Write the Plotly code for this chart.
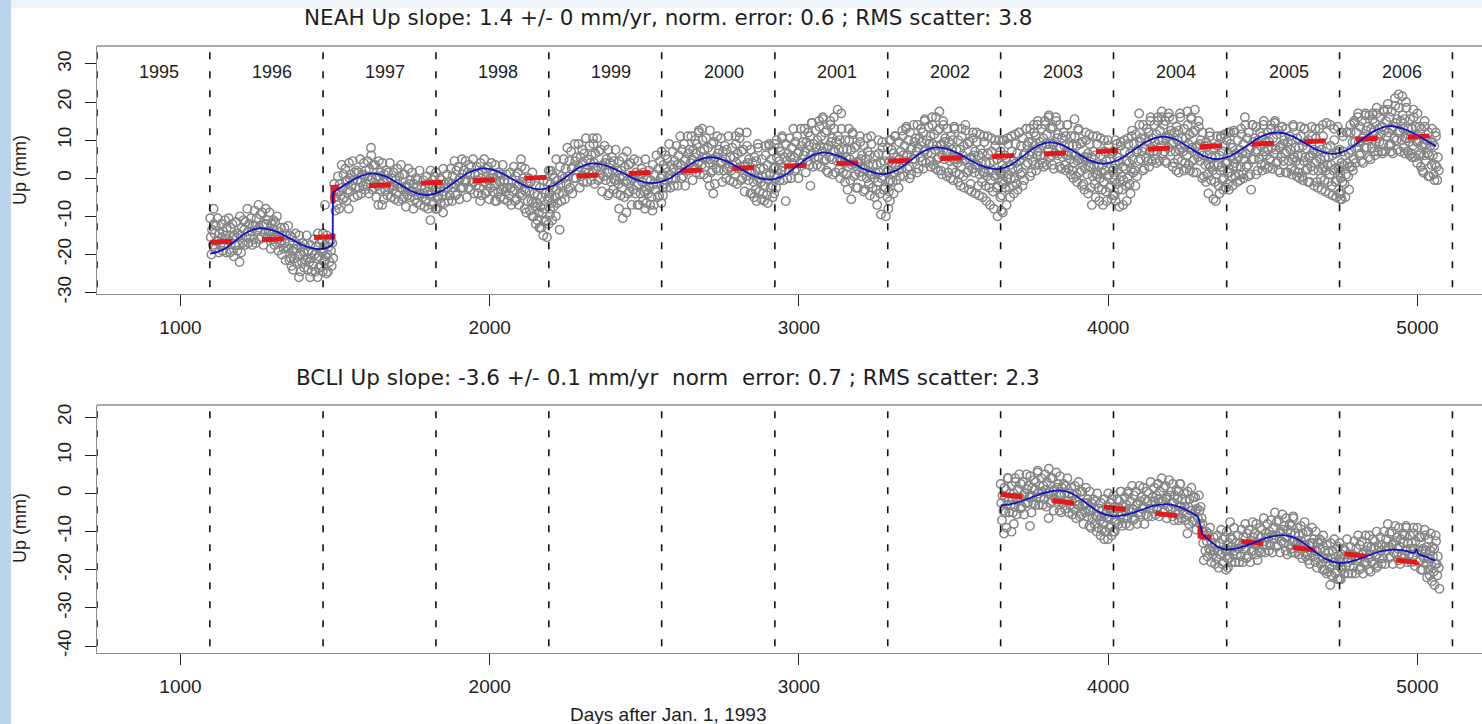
import plotly.graph_objects as go

FONT = "Liberation Sans, Arial, Helvetica, sans-serif"
TITLE_FONT = "DejaVu Sans, Verdana, sans-serif"
W, H = 1482, 724

# ---------------- data ----------------
year_starts = [730, 1095, 1461, 1826, 2191, 2556, 2922, 3287, 3652, 4017, 4383, 4748, 5113]
year_labels = ["1995", "1996", "1997", "1998", "1999", "2000", "2001", "2002", "2003", "2004", "2005", "2006"]
x_ticks = [1000, 2000, 3000, 4000, 5000]
neah_y_ticks = [-30, -20, -10, 0, 10, 20, 30]
bcli_y_ticks = [-40, -30, -20, -10, 0, 10, 20]

neah_title = "NEAH Up slope: 1.4 +/- 0 mm/yr, norm. error: 0.6 ; RMS scatter: 3.8"
bcli_title = "BCLI Up slope: -3.6 +/- 0.1 mm/yr  norm  error: 0.7 ; RMS scatter: 2.3"
x_title = "Days after Jan. 1, 1993"
y_title = "Up (mm)"

# each column = readings (mm) within one 12-day window
col_step = 12
day_offsets = [0, 6, 2, 9, 4, 11, 7]

neah_1996_start = 1096
neah_1996 = [
    [-10.5, -13.5, -15.5, -17.5, -20, -8], [-12, -12.5, -14.5, -16.5, -18.5], [-10.5, -14.5, -16.5, -17.5, -19.5],
    [-12, -14, -15.5, -17.5, -19], [-11, -13, -15, -16, -19.5], [-10.5, -13, -16.5, -19, -19.5],
    [-12, -15, -15.5, -17.5, -20.5], [-11.5, -14.5, -15.5, -17.5, -19, -22], [-10, -13, -15, -17, -19.5],
    [-11, -11.5, -13.5, -15.5, -17.5], [-8, -12, -14, -15, -17], [-10.5, -12.5, -14, -16, -17.5],
    [-8.5, -10.5, -12.5, -13.5, -17], [-7, -9.5, -13, -15.5, -16], [-9, -12, -12.5, -14.5, -17.5],
    [-8, -11, -12, -14, -15.5], [-9, -12, -14, -16, -18.5], [-11, -11.5, -13.5, -15.5, -17.5],
    [-10, -14, -16, -17, -19], [-13, -15, -16.5, -18.5, -20], [-13, -15, -17, -18, -21.5],
    [-12.5, -15, -18.5, -21, -21.5, -23], [-15.5, -18.5, -19, -21, -24], [-14.5, -17.5, -18.5, -20.5, -22, -26],
    [-15, -18, -20, -22, -24.5], [-17, -17.5, -19.5, -21.5, -23.5], [-15, -19, -21, -22, -24, -26],
    [-17.5, -19.5, -21, -23, -24.5], [-16, -18, -20, -21, -24.5, -26], [-14.5, -17, -20.5, -23, -23.5],
    [-16, -19, -19.5, -21.5, -24.5, -7],
]
neah_1997_start = 1461
neah_1997 = [
    [-14.5, -17.5, -18.5, -20.5, -22, -25], [-15, -18, -20, -22, -24.5], [-16.5, -17, -19, -21, -23],
    [-1.5, -3.5, -5, -7, -8.5], [0.5, -1.5, -3.5, -4.5, -8], [3.5, 1, -2.5, -5, -5.5],
    [2.5, -0.5, -1, -3, -6, -8], [4, 1, 0, -2, -3.5], [4.5, 1.5, -0.5, -2.5, -5],
    [2, 1.5, -0.5, -2.5, -4.5], [5, 1, -1, -2, -4], [4, 2, 0.5, -1.5, -3],
    [4.5, 2.5, 0.5, -0.5, -4, 8], [6, 3.5, 0, -2.5, -3], [3.5, 0.5, 0, -2, -5, -7],
    [4.5, 1.5, 0.5, -1.5, -3, -7], [4, 1, -1, -3, -5.5], [2, 1.5, -0.5, -2.5, -4.5],
    [4, 0, -2, -3, -5], [1.5, -0.5, -2, -4, -5.5], [2.5, 0.5, -1.5, -2.5, -6],
    [3.5, 1, -2.5, -5, -5.5], [1, -2, -2.5, -4.5, -7.5], [2.5, -0.5, -1.5, -3.5, -5],
    [1.5, -1.5, -3.5, -5.5, -8], [0, -0.5, -2.5, -4.5, -6.5], [2, -2, -4, -5, -7],
    [-0.5, -2.5, -4, -6, -7.5], [0.5, -1.5, -3.5, -4.5, -8, -11], [2, -0.5, -4, -6.5, -7],
    [0.5, -2.5, -3, -5, -8],
]
neah_1998_start = 1826
neah_1998 = [
    [1.5, -1.5, -3.5, -5.5, -8], [0, -0.5, -2.5, -4.5, -6.5, -9], [2.5, -1.5, -3.5, -4.5, -6.5],
    [1, -1, -2.5, -4.5, -6], [2.5, 0.5, -1.5, -2.5, -6], [4.5, 2, -1.5, -4, -4.5],
    [3, 0, -0.5, -2.5, -5.5], [5, 2, 1, -1, -2.5], [4.5, 1.5, -0.5, -2.5, -5],
    [3.5, 3, 1, -1, -3], [5, 1, -1, -2, -4], [3, 1, -0.5, -2.5, -4, -6],
    [4, 2, 0, -1, -4.5], [5, 2.5, -1, -3.5, -4], [3, 0, -0.5, -2.5, -5.5],
    [4, 1, 0, -2, -3.5, -6], [3.5, 0.5, -1.5, -3.5, -6], [1.5, 1, -1, -3, -5],
    [3.5, -0.5, -2.5, -3.5, -5.5], [1, -1, -2.5, -4.5, -6], [1.5, -0.5, -2.5, -3.5, -7],
    [3, 0.5, -3, -5.5, -6], [1.5, -1.5, -2, -4, -7, 5], [3, 0, -1, -3, -4.5, -8],
    [2.5, -1, -3.5, -6, -9], [0, -1, -3.5, -6, -8.5, -10], [1.5, -4, -6.5, -7.5, -10, -12],
    [-2, -4.5, -6.5, -9, -11, -13], [-2.5, -5, -7.5, -9, -13, -15], [-0.5, -4, -8, -11, -11.5, -15.5],
    [-1, -5, -5.5, -8, -12, 2],
]
neah_1999_start = 2191
neah_1999 = [
    [2, -1.5, -4, -6.5, -9.5, -11], [1, 0, -2.5, -5, -7.5, -10], [5, -0.5, -3, -4, -6.5, -13.5],
    [3, 0.5, -1.5, -4, -6], [5, 2.5, 0, -1.5, -5.5], [8, 4.5, 0.5, -2.5, -3],
    [7, 3, 2.5, 0, -4], [9, 5.5, 4.5, 2, 0], [9, 5.5, 3, 0.5, -2.5],
    [7.5, 6.5, 4, 1.5, -1], [10.5, 5, 2.5, 1.5, -1], [8.5, 6, 4, 1.5, -0.5, 10.5],
    [9, 6.5, 4, 2.5, -1.5], [10.5, 7, 3, 0, -0.5], [7.5, 3.5, 3, 0.5, -3.5],
    [8.5, 5, 4, 1.5, -0.5, -4.5], [7.5, 4, 1.5, -1, -4], [5.5, 4.5, 2, -0.5, -3],
    [7.5, 2, -0.5, -1.5, -4, -8], [4.5, 2, 0, -2.5, -4.5, -10.5], [5.5, 3, 0.5, -1, -5, -9],
    [7, 3.5, -0.5, -3.5, -4], [4, 0, -0.5, -3, -7], [5, 1.5, 0.5, -2, -4, -7],
    [4.5, 1, -1.5, -4, -7], [2.5, 1.5, -1, -3.5, -6, -8], [5, -0.5, -3, -4, -6.5],
    [2, -0.5, -2.5, -5, -7, -8.5], [3.5, 1, -1.5, -3, -7], [6, 2.5, -1.5, -4.5, -5],
    [4.5, 0.5, 0, -2.5, -6.5],
]
neah_2000_start = 2556
neah_2000 = [
    [7, 3.5, 1, -1.5, -4.5], [6, 5, 2.5, 0, -2.5], [9, 3.5, 1, 0, -2.5],
    [7, 4.5, 2.5, 0, -2], [8.5, 6, 3.5, 2, -2], [11, 7.5, 3.5, 0.5, 0],
    [9, 5, 4.5, 2, -2], [11, 7.5, 6.5, 4, 2], [11, 7.5, 5, 2.5, -0.5],
    [10, 9, 6.5, 4, 1.5, 12], [12.5, 7, 4.5, 3.5, 1, 13], [10, 7.5, 5.5, 3, 1],
    [10.5, 8, 5.5, 4, 0, -2], [12.5, 9, 5, 2, 1.5, -4], [9.5, 5.5, 5, 2.5, -1.5],
    [11, 7.5, 6.5, 4, 2], [10.5, 7, 4.5, 2, -1], [8.5, 7.5, 5, 2.5, 0],
    [11, 5.5, 3, 2, -0.5], [8, 5.5, 3.5, 1, -1, 11], [9, 6.5, 4, 2.5, -1.5, 12],
    [10.5, 7, 3, 0, -0.5], [7.5, 3.5, 3, 0.5, -3.5, 12], [8.5, 5, 4, 1.5, -0.5, -4],
    [7.5, 4, 1.5, -1, -4, -5], [5.5, 4.5, 2, -0.5, -3, 9, -6], [8, 2.5, 0, -1, -3.5, -5.5],
    [5, 2.5, 0.5, -2, -4, 8.5, -6], [6, 3.5, 1, -0.5, -4.5, 9, -6.5], [8.5, 5, 1, -2, -2.5, -5],
    [7, 3, 2.5, 0, -4, 10],
]
neah_2001_start = 2922
neah_2001 = [
    [9, 5.5, 3, 0.5, -2.5], [8, 7, 4.5, 2, -0.5, 10.5], [11, 5.5, 3, 2, -0.5, -6],
    [9, 6.5, 4.5, 2, 0], [10.5, 8, 5.5, 4, 0], [13, 9.5, 5.5, 2.5, 2],
    [11, 7, 6.5, 4, 0], [13, 9.5, 8.5, 6, 4], [13, 9.5, 7, 4.5, 1.5],
    [12, 11, 8.5, 6, 3.5, 14.5, -2], [14.5, 9, 6.5, 5.5, 3], [12.5, 10, 8, 5.5, 3.5, 15],
    [13.5, 11, 8.5, 7, 3, 16], [15.5, 12, 8, 5, 4.5, 2], [12.5, 8.5, 8, 5.5, 1.5, 15],
    [14, 10.5, 9.5, 7, 5, 16, 1], [13, 9.5, 7, 4.5, 1.5, 18], [11, 10, 7.5, 5, 2.5, 17, 0],
    [13, 7.5, 5, 4, 1.5, -1], [10, 7.5, 5.5, 3, 1, 13, -3], [10, 7.5, 5, 3.5, -0.5, 12, -5.5],
    [11.5, 8, 4, 1, 0.5, -2.5], [8.5, 4.5, 4, 1.5, -2.5, 11], [9.5, 6, 5, 2.5, 0.5, -3.5],
    [8.5, 5, 2.5, 0, -3, 10.5], [7, 6, 3.5, 1, -1.5, 11, -4.5], [9, 3.5, 1, 0, -2.5, -5],
    [6, 3.5, 1.5, -1, -3, 10, -7], [6.5, 4, 1.5, 0, -4, 9.5, -9.5], [8, 4.5, 0.5, -2.5, -3, -10],
    [6, 2, 1.5, -1, -5, 10, -8],
]
neah_2002_start = 3287
neah_2002 = [
    [8, 4.5, 2, -0.5, -3.5, 10, -6], [7.5, 6.5, 4, 1.5, -1, 11, -4], [11, 5.5, 3, 2, -0.5, -2.5],
    [9.5, 7, 5, 2.5, 0.5, 12.5], [11, 8.5, 6, 4.5, 0.5, 13], [13.5, 10, 6, 3, 2.5, 0],
    [12, 8, 7.5, 5, 1], [14, 10.5, 9.5, 7, 5, 1.5], [14, 10.5, 8, 5.5, 2.5],
    [13, 12, 9.5, 7, 4.5, 15, 2.5], [15.5, 10, 7.5, 6.5, 4], [13.5, 11, 9, 6.5, 4.5, 16, 3],
    [14, 11.5, 9, 7.5, 3.5, 2.5], [16, 12.5, 8.5, 5.5, 5, 17.5, 2], [13, 9, 8.5, 6, 2, 15, 1],
    [14, 10.5, 9.5, 7, 5, 0.5], [13, 9.5, 7, 4.5, 1.5, 0], [11, 10, 7.5, 5, 2.5, 13.5, -0.5],
    [13, 7.5, 5, 4, 1.5, -1], [10, 7.5, 5.5, 3, 1, 13, -2], [11, 8.5, 6, 4.5, 0.5, 14, -2.5],
    [12.5, 9, 5, 2, 1.5, -3], [9.5, 5.5, 5, 2.5, -1.5, 12, -3.5], [10.5, 7, 6, 3.5, 1.5, 12, -4],
    [9.5, 6, 3.5, 1, -2, 11.5, -4.5], [7.5, 6.5, 4, 1.5, -1, 11, -5], [9.5, 4, 1.5, 0.5, -2, 11, -6],
    [6.5, 4, 2, -0.5, -2.5, 10.5, -7], [7, 4.5, 2, 0.5, -3.5, 10, -8], [8.5, 5, 1, -2, -2.5, 10, -10],
    [6, 2, 1.5, -1, -5, 10, -8.5],
]
neah_2003_start = 3652
neah_2003 = [
    [7, 3.5, 1, -1.5, -4.5, 10, -9], [6, 5, 2.5, 0, -2.5, 10.5, -7], [9, 3.5, 1, 0, -2.5, 11, -5],
    [7, 4.5, 2.5, 0, -2, 11.5, -4], [9, 6.5, 4, 2.5, -1.5, 12, -3], [12, 8.5, 4.5, 1.5, 1, -2],
    [10.5, 6.5, 6, 3.5, -0.5, 13], [13, 9.5, 8.5, 6, 4, 0.5], [13, 9.5, 7, 4.5, 1.5, 14],
    [12, 11, 8.5, 6, 3.5, 14, 2], [15, 9.5, 7, 6, 3.5], [13, 10.5, 8.5, 6, 4, 15, 3],
    [14, 11.5, 9, 7.5, 3.5, 16], [16.5, 13, 9, 6, 5.5, 3.5], [13.5, 9.5, 9, 6.5, 2.5, 16],
    [15, 11.5, 10.5, 8, 6, 3], [14, 10.5, 8, 5.5, 2.5], [12, 11, 8.5, 6, 3.5, 14, 2],
    [14, 8.5, 6, 5, 2.5, 1], [11, 8.5, 6.5, 4, 2, 15.5, 0], [11, 8.5, 6, 4.5, 0.5, 13, -1],
    [12.5, 9, 5, 2, 1.5, -2], [9.5, 5.5, 5, 2.5, -1.5, 12, -3], [10, 6.5, 5.5, 3, 1, 11.5, -4],
    [9, 5.5, 3, 0.5, -2.5, 11, -7], [7, 6, 3.5, 1, -1.5, 11, -5], [9, 3.5, 1, 0, -2.5, 10.5, -6],
    [6, 3.5, 1.5, -1, -3, 10, -7], [7, 4.5, 2, 0.5, -3.5, 10, -6], [8.5, 5, 1, -2, -2.5, -5.5],
    [6.5, 2.5, 2, -0.5, -4.5, 10],
]
neah_2004_start = 4017
neah_2004 = [
    [7, 3.5, 1, -1.5, -4.5, 9, -6], [5.5, 4.5, 2, -0.5, -3, 9.5, -7.5], [8.5, 3, 0.5, -0.5, -3, 10, -7],
    [7, 4.5, 2.5, 0, -2, 10.5, -6], [9, 6.5, 4, 2.5, -1.5, 11, -4], [12.5, 9, 5, 2, 1.5, -2],
    [11.5, 7.5, 7, 4.5, 0.5, 17], [14, 10.5, 9.5, 7, 5, 2], [14, 10.5, 8, 5.5, 2.5],
    [13, 12, 9.5, 7, 4.5, 15, 3], [16, 10.5, 8, 7, 4.5], [14, 11.5, 9.5, 7, 5, 16, 4],
    [15, 12.5, 10, 8.5, 4.5, 16], [17.5, 14, 10, 7, 6.5, 4.5], [15, 11, 10.5, 8, 4, 17],
    [16, 12.5, 11.5, 9, 7, 3], [15.5, 12, 9.5, 7, 4, 2], [13.5, 12.5, 10, 7.5, 5, 17, 1.5],
    [16, 10.5, 8, 7, 4.5, 2], [13, 10.5, 8.5, 6, 4, 17.5, 2.5], [14, 11.5, 9, 7.5, 3.5, 16, 2],
    [15.5, 12, 8, 5, 4.5, 18, 1.5], [12.5, 8.5, 8, 5.5, 1.5, 15], [13.5, 10, 9, 6.5, 4.5, 0],
    [12, 8.5, 6, 3.5, 0.5, -1], [9.5, 8.5, 6, 3.5, 1, 12, -4], [11, 5.5, 3, 2, -0.5, -5.5],
    [8, 5.5, 3.5, 1, -1, 11, -6], [8.5, 6, 3.5, 2, -2, 11, -4], [10.5, 7, 3, 0, -0.5, 11.5, -3],
    [8.5, 4.5, 4, 1.5, -2.5, 12],
]
neah_2005_start = 4383
neah_2005 = [
    [10, 6.5, 4, 1.5, -1.5, 12, -3], [9, 8, 5.5, 3, 0.5, 12.5, -2], [12, 6.5, 4, 3, 0.5, -1],
    [10, 7.5, 5.5, 3, 1, 13, -0.5], [11.5, 9, 6.5, 5, 1, 16, 0], [14, 10.5, 6.5, 3.5, 3, 0.5],
    [12, 8, 7.5, 5, 1, 14, -3], [14, 10.5, 9.5, 7, 5, 1], [13.5, 10, 7.5, 5, 2],
    [12, 11, 8.5, 6, 3.5, 14, 2], [15, 9.5, 7, 6, 3.5, 2.5], [12, 9.5, 7.5, 5, 3, 14],
    [13, 10.5, 8, 6.5, 2.5, 14.5], [15, 11.5, 7.5, 4.5, 4, 2], [12.5, 8.5, 8, 5.5, 1.5, 13.5],
    [13.5, 10, 9, 6.5, 4.5, 1.5], [13, 9.5, 7, 4.5, 1.5], [11, 10, 7.5, 5, 2.5, 14, 1],
    [13.5, 8, 5.5, 4.5, 2, 0.5], [10.5, 8, 6, 3.5, 1.5, 13.5, 0], [11, 8.5, 6, 4.5, 0.5, 13, -0.5],
    [13, 9.5, 5.5, 2.5, 2, -1], [10, 6, 5.5, 3, -1, 13.5], [11, 7.5, 6.5, 4, 2, 13, -2],
    [10.5, 7, 4.5, 2, -1, 13, -2.5], [8.5, 7.5, 5, 2.5, 0, 14, -3], [11, 5.5, 3, 2, -0.5, 14.5, -3.5],
    [8, 5.5, 3.5, 1, -1, 14, -4], [8.5, 6, 3.5, 2, -2, 13, -4.5], [10, 6.5, 2.5, -0.5, -1, 13.5, -5],
    [7, 3, 2.5, 0, -4, 12, -5.5],
]
neah_2006_start = 4748
neah_2006 = [
    [7.5, 4, 1.5, -1, -4, 11, -5.5], [7, 6, 3.5, 1, -1.5, 12, -5], [12, 6.5, 4, 3, 0.5, 14, -3],
    [12, 9.5, 7.5, 5, 3, 15, 2], [14.5, 12, 9.5, 8, 4, 16], [17, 13.5, 9.5, 6.5, 6, 4.5],
    [15, 11, 10.5, 8, 4, 16.5], [17, 13.5, 12.5, 10, 8, 5.5], [16.5, 13, 10.5, 8, 5, 17],
    [15.5, 14.5, 12, 9.5, 7, 17, 6], [18.5, 13, 10.5, 9.5, 7], [16, 13.5, 11.5, 9, 7, 18, 6.5],
    [17.5, 15, 12.5, 11, 7, 18], [19.5, 16, 12, 9, 8.5, 7], [17.5, 13.5, 13, 10.5, 6.5, 21],
    [19, 15.5, 14.5, 12, 10, 22, 7.5], [18.5, 15, 12.5, 10, 7, 21.5], [16.5, 15.5, 13, 10.5, 8, 20, 6.5],
    [18.5, 13, 10.5, 9.5, 7, 6], [15.5, 13, 11, 8.5, 6.5, 18, 5.5], [16, 13.5, 11, 9.5, 5.5, 4],
    [17, 13.5, 9.5, 6.5, 6, 3], [13, 9, 8.5, 6, 2, 15, 1.5], [13.5, 10, 9, 6.5, 4.5, 0.5],
    [12, 8.5, 6, 3.5, 0.5, 13], [9.5, 8.5, 6, 3.5, 1, 12, -0.5], [11, 5.5, 3, 2, -0.5],
]

bcli_2003_start = 3652
bcli_2003 = [
    [2.5, -0.5, -2.5, -4.5, -7, -10.5], [1.5, 1, -1, -3, -5, 4, -9], [4, 0, -2, -3, -5, -10],
    [2, 0, -1.5, -3.5, -5, 4, -8], [3, 1, -1, -2, -5.5], [5, 2.5, -1, -3.5, -4],
    [3, 0, -0.5, -2.5, -5.5], [5, 2, 1, -1, -2.5, -8.5], [4.5, 1.5, -0.5, -2.5, -5],
    [3.5, 3, 1, -1, -3, 5.5], [6, 2, 0, -1, -3], [4, 2, 0.5, -1.5, -3],
    [5, 3, 1, 0, -3.5, -6.5], [6.5, 4, 0.5, -2, -2.5], [4, 1, 0.5, -1.5, -4.5],
    [5.5, 2.5, 1.5, -0.5, -2, -4.5], [4.5, 1.5, -0.5, -2.5, -5], [2.5, 2, 0, -2, -4],
    [4, 0, -2, -3, -5], [1.5, -0.5, -2, -4, -5.5], [2, 0, -2, -3, -6.5],
    [3, 0.5, -3, -5.5, -6], [0.5, -2.5, -3, -5, -8], [1.5, -1.5, -2.5, -4.5, -6, -8.5],
    [0.5, -2.5, -4.5, -6.5, -9], [-1.5, -2, -4, -6, -8, -10], [0, -4, -6, -7, -9, -11],
    [-2.5, -4.5, -6, -8, -9.5, -12], [-1.5, -3.5, -5.5, -6.5, -10, -12], [0, -2.5, -6, -8.5, -9, -11],
    [-1.5, -4.5, -5, -7, -10],
]
bcli_2004_start = 4017
bcli_2004 = [
    [-0.5, -3.5, -5.5, -7.5, -10], [-1.5, -2, -4, -6, -8, 0.5], [0.5, -3.5, -5.5, -6.5, -8.5],
    [-1, -3, -4.5, -6.5, -8, 0.5], [0, -2, -4, -5, -8.5], [2, -0.5, -4, -6.5, -7],
    [0.5, -2.5, -3, -5, -8], [2, -1, -2, -4, -5.5], [1.5, -1.5, -3.5, -5.5, -8],
    [0.5, 0, -2, -4, -6], [3, -1, -3, -4, -6], [1.5, -0.5, -2, -4, -5.5, 2.5],
    [2.5, 0.5, -1.5, -2.5, -6], [4, 1.5, -2, -4.5, -5], [2, -1, -1.5, -3.5, -6.5],
    [3.5, 0.5, -0.5, -2.5, -4, -6], [2.5, -0.5, -2.5, -4.5, -7], [1, 0.5, -1.5, -3.5, -5.5, 2.5, -7],
    [2.5, -1.5, -3.5, -4.5, -6.5], [0, -2, -3.5, -5.5, -7, -10.5], [0.5, -1.5, -3.5, -4.5, -8],
    [1.5, -1, -4.5, -7, -7.5], [-1, -4, -4.5, -6.5, -9.5], [-0.5, -3.5, -4.5, -6.5, -8, -10],
    [-8, -11, -13, -15, -17.5], [-10, -10.5, -12.5, -14.5, -16.5], [-9, -13, -15, -16, -18],
    [-11.5, -13.5, -15, -17, -18.5], [-11, -13, -15, -16, -19.5], [-9.5, -12, -15.5, -18, -18.5],
    [-11.5, -14.5, -15, -17, -20],
]
bcli_2005_start = 4383
bcli_2005 = [
    [-10, -13, -15, -17, -19.5, -7.5], [-11.5, -12, -14, -16, -18], [-9, -13, -15, -16, -18],
    [-11, -13, -14.5, -16.5, -18], [-9.5, -11.5, -13.5, -14.5, -18], [-8, -10.5, -14, -16.5, -17],
    [-9.5, -12.5, -13, -15, -18], [-7.5, -10.5, -11.5, -13.5, -15, -16], [-8, -11, -13, -15, -17.5],
    [-9, -9.5, -11.5, -13.5, -15.5], [-6.5, -10.5, -12.5, -13.5, -15.5], [-8, -10, -11.5, -13.5, -15],
    [-7, -9, -11, -12, -15.5], [-5, -7.5, -11, -13.5, -14], [-7, -10, -10.5, -12.5, -15.5],
    [-5.5, -8.5, -9.5, -11.5, -13, -15], [-6.5, -9.5, -11.5, -13.5, -16], [-8, -8.5, -10.5, -12.5, -14.5, -6, -15.5],
    [-6.5, -10.5, -12.5, -13.5, -15.5], [-9, -11, -12.5, -14.5, -16], [-8.5, -10.5, -12.5, -13.5, -17],
    [-7.5, -10, -13.5, -16, -16.5, -17.5], [-10, -13, -13.5, -15.5, -18.5], [-9, -12, -13, -15, -16.5, -18],
    [-10, -13, -15, -17, -19.5], [-12, -12.5, -14.5, -16.5, -18.5, -20], [-11, -15, -17, -18, -20, -21],
    [-13.5, -15.5, -17, -19, -20.5, -24], [-13, -15, -17, -18, -21.5], [-12, -14.5, -18, -20.5, -21, -22.5],
    [-14, -17, -17.5, -19.5, -22.5],
]
bcli_2006_start = 4748
bcli_2006 = [
    [-13, -16, -18, -20, -22.5], [-14.5, -15, -17, -19, -21], [-12, -16, -18, -19, -21],
    [-14, -16, -17.5, -19.5, -21], [-12.5, -14.5, -16.5, -17.5, -21], [-11, -13.5, -17, -19.5, -20],
    [-12.5, -15.5, -16, -18, -21], [-11, -14, -15, -17, -18.5, -20], [-11, -14, -16, -18, -20.5],
    [-12, -12.5, -14.5, -16.5, -18.5, -19.5], [-10, -14, -16, -17, -19], [-11.5, -13.5, -15, -17, -18.5],
    [-10, -12, -14, -15, -18.5], [-8, -10.5, -14, -16.5, -17], [-10, -13, -13.5, -15.5, -18.5],
    [-8.5, -11.5, -12.5, -14.5, -16, -17.5], [-9, -12, -14, -16, -18.5], [-10.5, -11, -13, -15, -17, -8.5],
    [-9, -13, -15, -16, -18], [-11, -13, -14.5, -16.5, -18, -9], [-10.5, -12.5, -14.5, -15.5, -19],
    [-9, -11.5, -15, -17.5, -18, -20], [-11.5, -14.5, -15, -17, -20, -9.5], [-11, -14, -15, -17, -18.5, -20, -22],
    [-12, -15, -17, -19, -21.5, -23, -10.5], [-14, -14.5, -16.5, -18.5, -20.5, -11, -24], [-12.5, -16.5, -18.5, -19.5, -21.5, -25],
]

# seasonal model (blue); None separates model segments at offsets
neah_blue_days = [1096, 1136, 1177, 1217, 1258, 1306, 1355, 1403, 1452, 1475, 1492, None,
                  1493, 1520, 1549, 1585, 1619, 1663, 1708, 1752, 1797, 1843, 1888, 1934, 1980,
                  2026, 2071, 2117, 2163, 2206, 2249, 2292, 2335, 2383, 2432, 2480, 2529,
                  2575, 2621, 2667, 2713, 2761, 2810, 2858, 2907, 2950, 2993, 3036, 3079,
                  3127, 3176, 3224, 3273, 3316, 3359, 3403, 3446, 3494, 3543, 3591, 3640,
                  3683, 3726, 3769, 3812, 3855, 3898, 3942, 3985, 4033, 4081, 4130, 4178,
                  4221, 4264, 4308, 4351, 4399, 4448, 4496, 4545, 4591, 4636, 4682, 4728,
                  4774, 4819, 4865, 4911, 4955, 4997, 5030, 5060]
neah_blue_up = [-19.8, -18.8, -16.45, -14.1, -13.1, -13.9, -15.85, -17.8, -18.6, -18.2, -17.4, None,
                -3.8, -2.3, -0.9, 0.6, 1.3, 0.47, -1.55, -3.57, -4.4, -3.38, -0.9, 1.58, 2.6,
                1.8, -0.15, -2.1, -2.9, -1.91, 0.5, 2.91, 3.9, 3.14, 1.3, -0.54, -1.3,
                -0.31, 2.1, 4.51, 5.5, 4.64, 2.55, 0.46, -0.4, 0.64, 3.15, 5.66, 6.7,
                5.88, 3.9, 1.92, 1.1, 2.12, 4.6, 7.08, 8.1, 7.27, 5.25, 3.23, 2.4,
                3.42, 5.9, 8.38, 9.4, 8.58, 6.6, 4.62, 3.8, 4.84, 7.35, 9.86, 10.9,
                10.04, 7.95, 5.86, 5.0, 6.02, 8.5, 10.98, 12.0, 11.18, 9.2, 7.22, 6.4,
                7.47, 10.05, 12.63, 13.7, 12.94, 11.4, 9.8, 8.4]

bcli_blue_days = [3652, 3700, 3748, 3796, 3844, 3887, 3930, 3974, 4017, 4060, 4103, 4146, 4189,
                  4230, 4253, 4275, 4291, None,
                  4305, 4330, 4355, 4383, 4429, 4474, 4520, 4566, 4612, 4657, 4703, 4749,
                  4792, 4835, 4879, 4922, 4955, 4990, 4996, None,
                  5003, 5030, 5058]
bcli_blue_up = [-3.1, -2.53, -1.15, 0.23, 0.8, -0.19, -2.6, -5.01, -6.0, -5.53, -4.4, -3.27, -2.8,
                -3.5, -4.4, -5.3, -6.1, None,
                -10.8, -12.5, -14.0, -14.7, -14.14, -12.8, -11.46, -10.9, -11.97, -14.55, -17.13, -18.2,
                -17.69, -16.45, -15.21, -14.7, -14.9, -15.5, -14.6, None,
                -15.9, -16.7, -17.6]

# linear trend with offsets (red dashed)
neah_red_days = [1096, 1493, 1493, 5062]
neah_red_up = [-16.8, -15.3, -2.4, 11.2]
bcli_red_days = [3652, 4297, 4297, 4998, 4998, 5062]
bcli_red_up = [-0.2, -6.6, -11.2, -18.1, -16.4, -16.9]

neah_blocks = [(neah_1996_start, neah_1996), (neah_1997_start, neah_1997), (neah_1998_start, neah_1998),
               (neah_1999_start, neah_1999), (neah_2000_start, neah_2000), (neah_2001_start, neah_2001),
               (neah_2002_start, neah_2002), (neah_2003_start, neah_2003), (neah_2004_start, neah_2004),
               (neah_2005_start, neah_2005), (neah_2006_start, neah_2006)]
bcli_blocks = [(bcli_2003_start, bcli_2003), (bcli_2004_start, bcli_2004),
               (bcli_2005_start, bcli_2005), (bcli_2006_start, bcli_2006)]


def expand(blocks):
    xs, ys = [], []
    for start, cols in blocks:
        for k, col in enumerate(cols):
            for i, v in enumerate(col):
                xs.append(start + col_step * k + day_offsets[i % len(day_offsets)])
                ys.append(v)
    return xs, ys


def jumps(days, ups):
    xs, ys = [], []
    for i, d in enumerate(days):
        if d is None:
            xs += [days[i - 1], days[i + 1], None]
            ys += [ups[i - 1], ups[i + 1], None]
    return xs, ys


# ---------------- styles ----------------
GRAY = "#858585"
RED = "#e3191c"
BLUE = "#1212c4"
AXIS_GRAY = "#8c8c8c"
TXT = "#1e1e1e"

x_dom = [97 / W, 1.0]
top_dom = [1 - 293.7 / H, 1 - 46 / H]
bot_dom = [1 - 653.3 / H, 1 - 405 / H]
x_range = [730, 5208.6]

fig = go.Figure()

panels = [
    ("x", "y", neah_blocks, neah_blue_days, neah_blue_up, neah_red_days, neah_red_up),
    ("x2", "y2", bcli_blocks, bcli_blue_days, bcli_blue_up, bcli_red_days, bcli_red_up),
]
for xa, ya, blocks, bd, bu, rd, ru in panels:
    px, py = expand(blocks)
    fig.add_trace(go.Scatter(x=px, y=py, mode="markers", xaxis=xa, yaxis=ya, showlegend=False,
                             marker=dict(symbol="circle-open", size=8.5, color=GRAY,
                                         line=dict(width=1.4, color=GRAY)),
                             hoverinfo="skip"))
    fig.add_trace(go.Scatter(x=rd, y=ru, mode="lines", xaxis=xa, yaxis=ya, showlegend=False,
                             line=dict(color=RED, width=5, dash="22px,30px"), hoverinfo="skip"))
    fig.add_trace(go.Scatter(x=bd, y=bu, mode="lines", xaxis=xa, yaxis=ya, showlegend=False,
                             connectgaps=False, line=dict(color=BLUE, width=1.8, shape="spline", smoothing=1.0),
                             hoverinfo="skip"))
    jx, jy = jumps(bd, bu)
    fig.add_trace(go.Scatter(x=jx, y=jy, mode="lines", xaxis=xa, yaxis=ya, showlegend=False,
                             connectgaps=False, line=dict(color=BLUE, width=1.8), hoverinfo="skip"))

axis_common = dict(showgrid=False, zeroline=False, showline=True, linecolor=AXIS_GRAY, linewidth=1.3,
                   ticks="outside", ticklen=11, tickwidth=1.4, tickcolor=TXT, automargin=False,
                   tickfont=dict(family=FONT, size=19, color=TXT))

fig.update_layout(
    width=W, height=H,
    margin=dict(l=0, r=0, t=0, b=0, pad=0),
    paper_bgcolor="white", plot_bgcolor="white",
    font=dict(family=FONT, color=TXT),
    xaxis=dict(domain=x_dom, range=x_range, tickvals=x_ticks, ticktext=[str(v) for v in x_ticks],
               anchor="y", ticklabelstandoff=5, **axis_common),
    yaxis=dict(domain=top_dom, range=[-30.3, 34.7], tickvals=neah_y_ticks,
               ticktext=[str(v) for v in neah_y_ticks], tickangle=-90, anchor="x",
               ticklabelstandoff=6, **axis_common),
    xaxis2=dict(domain=x_dom, range=x_range, tickvals=x_ticks, ticktext=[str(v) for v in x_ticks],
                anchor="y2", ticklabelstandoff=5, **axis_common),
    yaxis2=dict(domain=bot_dom, range=[-41.9, 23.2], tickvals=bcli_y_ticks,
                ticktext=[str(v) for v in bcli_y_ticks], tickangle=-90, anchor="x2",
                ticklabelstandoff=6, **axis_common),
)

shapes = [
    dict(type="rect", xref="paper", yref="paper", x0=0, x1=11 / W, y0=0, y1=1,
         fillcolor="#bcd3ec", line=dict(width=0), layer="below"),
    dict(type="rect", xref="paper", yref="paper", x0=11 / W, x1=1, y0=1 - 8 / H, y1=1,
         fillcolor="#eef3fa", line=dict(width=0), layer="below"),
]
for dom in (top_dom, bot_dom):
    shapes.append(dict(type="line", xref="paper", yref="paper", x0=x_dom[0], x1=1, y0=dom[1], y1=dom[1],
                       line=dict(color=AXIS_GRAY, width=1.3)))
for xa, ya in (("x", "y"), ("x2", "y2")):
    for d in year_starts:
        shapes.append(dict(type="line", xref=xa, yref=ya + " domain", x0=d, x1=d, y0=0.975, y1=0,
                           line=dict(color="#111111", width=1.6, dash="7px,12px")))
fig.update_layout(shapes=shapes)

ann = []
for s, lab in zip(year_starts[:-1], year_labels):
    ann.append(dict(x=s + 201, y=27.8, xref="x", yref="y", text=lab, showarrow=False,
                    xanchor="center", yanchor="middle", font=dict(family=FONT, size=18, color=TXT)))
ann.append(dict(x=668 / W, y=1 - 18 / H, xref="paper", yref="paper", text=neah_title, showarrow=False,
                xanchor="center", yanchor="middle", font=dict(family=TITLE_FONT, size=21.5, color=TXT)))
ann.append(dict(x=668 / W, y=1 - 377 / H, xref="paper", yref="paper", text=bcli_title, showarrow=False,
                xanchor="center", yanchor="middle", font=dict(family=TITLE_FONT, size=21.5, color=TXT)))
ann.append(dict(x=668 / W, y=1 - 714 / H, xref="paper", yref="paper", text=x_title, showarrow=False,
                xanchor="center", yanchor="middle", font=dict(family=FONT, size=19, color=TXT)))
for yc in (170, 528):
    ann.append(dict(x=20 / W, y=1 - yc / H, xref="paper", yref="paper", text=y_title, showarrow=False,
                    xanchor="center", yanchor="middle", textangle=-90,
                    font=dict(family=FONT, size=18, color=TXT)))
fig.update_layout(annotations=ann)

fig.write_html("out.html")
